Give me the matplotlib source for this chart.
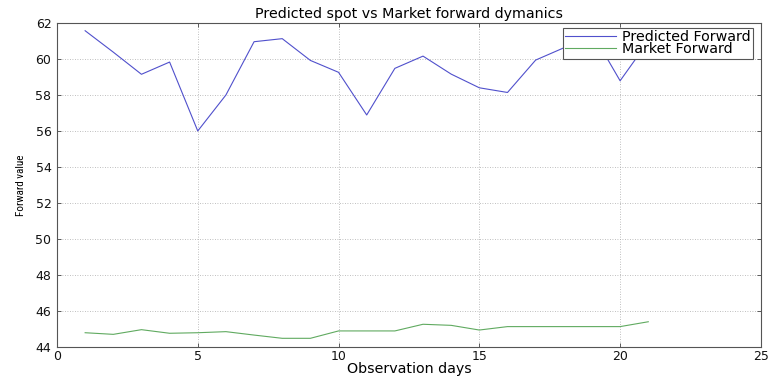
import matplotlib
matplotlib.use("Agg")
import matplotlib.pyplot as plt
from matplotlib import font_manager

days = list(range(1, 22))
predicted_forward = [61.59, 60.40, 59.17, 59.85, 56.02, 58.02, 60.98, 61.15, 59.94, 59.28,
                     56.91, 59.50, 60.18, 59.18, 58.42, 58.16, 59.96, 60.64, 61.50, 58.81, 61.00]
market_forward = [44.81, 44.72, 44.98, 44.78, 44.81, 44.87, 44.68, 44.50, 44.50, 44.91,
                  44.91, 44.91, 45.28, 45.22, 44.96, 45.15, 45.15, 45.15, 45.15, 45.15, 45.42]

x_ticks = [0, 5, 10, 15, 20, 25]
y_ticks = [44, 46, 48, 50, 52, 54, 56, 58, 60, 62]

plt.rcParams['font.family'] = ['DejaVu Sans']
installed = {f.name for f in font_manager.fontManager.ttflist}
narrow = next((n for n in ('Liberation Sans Narrow', 'DejaVu Sans Condensed', 'Roboto Condensed')
               if n in installed), 'Liberation Sans')

fig = plt.figure(figsize=(7.71, 3.78), dpi=100)
ax = fig.add_axes([0.0739, 0.0812, 0.913, 0.857])

ax.plot(days, predicted_forward, color='#5050cc', lw=0.8, label='Predicted Forward')
ax.plot(days, market_forward, color='#60aa60', lw=0.8, label='Market Forward')

ax.set_xlim(0, 25)
ax.set_ylim(44, 62)
ax.set_xticks(x_ticks)
ax.set_yticks(y_ticks)
ax.tick_params(direction='in', top=True, right=True, length=3, width=0.6,
               labelsize=9, colors='#444444', labelcolor='#111111')
ax.tick_params(axis='x', pad=2)
ax.tick_params(axis='y', pad=4)
ax.grid(True, linestyle=(0, (1, 2)), color='#aaaaaa', lw=0.6)
for s in ax.spines.values():
    s.set_color('#555555')
    s.set_linewidth(0.8)

ax.set_title('Predicted spot vs Market forward dymanics', fontsize=10.3, pad=4)
ax.set_xlabel('Observation days', fontsize=10.3, labelpad=-1)
ax.set_ylabel('Forward value', fontsize=8, family=[narrow, 'DejaVu Sans'], labelpad=7)

leg = ax.legend(loc='upper right', bbox_to_anchor=(0.9886, 0.9864), fontsize=10.3,
                frameon=True, fancybox=False, borderpad=0.15, labelspacing=-0.1,
                handlelength=3.6, handletextpad=0.4, borderaxespad=0.0)
leg.get_frame().set_edgecolor('#555555')
leg.get_frame().set_linewidth(0.8)
leg.get_frame().set_alpha(1.0)

fig.savefig('out.png', dpi=100)
